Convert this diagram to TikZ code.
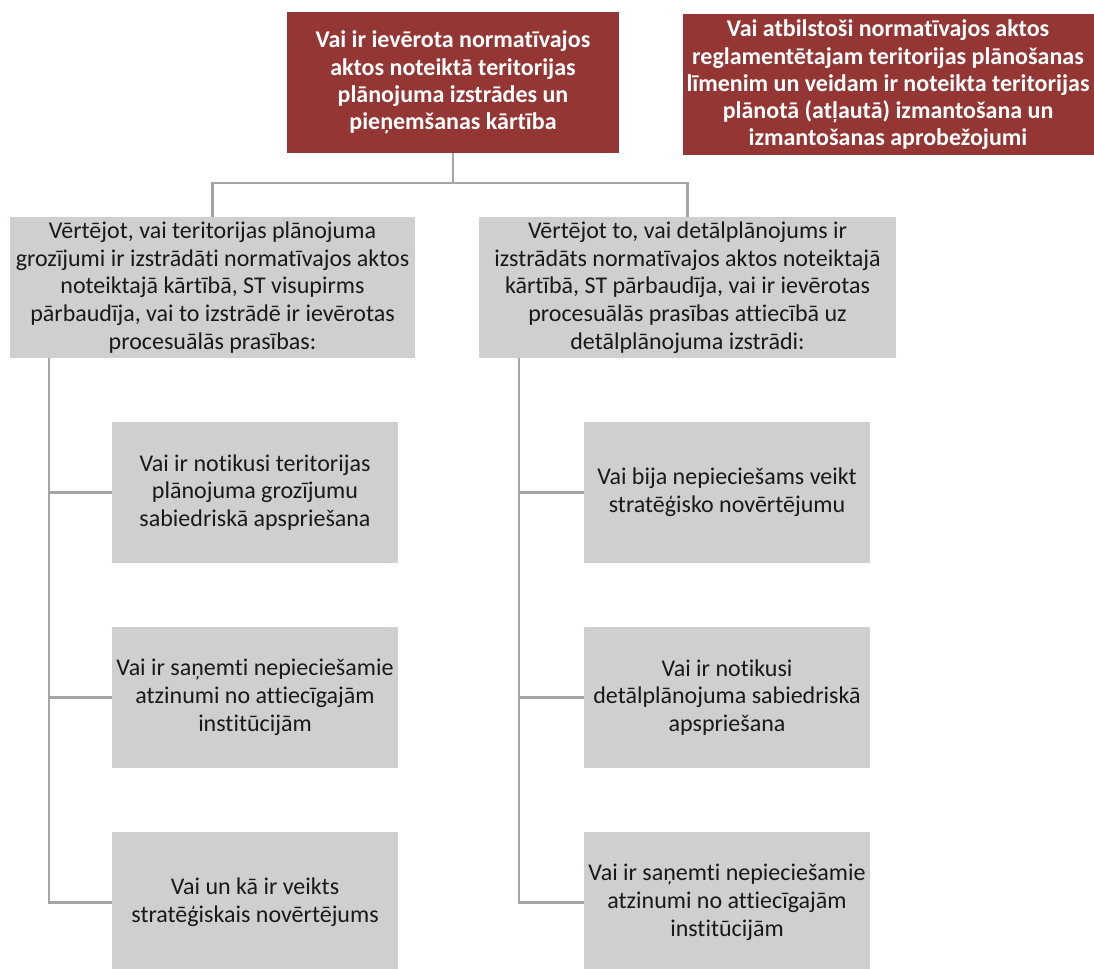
\documentclass[tikz,border=0pt]{standalone}
\usepackage{fontspec}
\setmainfont{Carlito}[Ligatures=NoCommon]
\usetikzlibrary{positioning,calc}
\definecolor{hdred}{HTML}{943634}
\definecolor{boxgray}{HTML}{D0CECE}
\definecolor{linegray}{HTML}{A5A5A5}
\newcommand{\pxu}{0.75pt}
\tikzset{
  redbox/.style={fill=hdred, text=white, font=\fontsize{18}{20.4}\selectfont\bfseries, align=center, inner sep=0pt, minimum height=141*\pxu},
  graybox/.style={fill=boxgray, text=black!90, font=\fontsize{18}{20.8}\selectfont, align=center, inner sep=0pt, minimum height=141*\pxu},
  conn/.style={draw=linegray, line width=2pt}
}

\begin{document}
\begin{tikzpicture}[x=0.75pt, y=-0.75pt]
\useasboundingbox (0,0) rectangle (1094,969);
\node[redbox, minimum width=332*\pxu] (top) at (453,82.5) {Vai ir ievērota normatīvajos\\aktos noteiktā teritorijas\\plānojuma izstrādes un\\pieņemšanas kārtība};
\node[redbox, minimum width=411*\pxu] (use) at (888,85) {Vai atbilstoši normatīvajos aktos\\reglamentētajam teritorijas plānošanas\\līmenim un veidam ir noteikta teritorijas\\plānotā (atļautā) izmantošana un\\izmantošanas aprobežojumi};
\node[graybox, minimum width=405*\pxu] (tp) at (212.5,287.5) {Vērtējot, vai teritorijas plānojuma\\grozījumi ir izstrādāti normatīvajos aktos\\noteiktajā kārtībā, ST visupirms\\pārbaudīja, vai to izstrādē ir ievērotas\\procesuālās prasības:};
\node[graybox, minimum width=417*\pxu] (dp) at (687.5,287.5) {Vērtējot to, vai detālplānojums ir\\izstrādāts normatīvajos aktos noteiktajā\\kārtībā, ST pārbaudīja, vai ir ievērotas\\procesuālās prasības attiecībā uz\\detālplānojuma izstrādi:};
\node[graybox, minimum width=286*\pxu] (tp1) at (255,492.5) {Vai ir notikusi teritorijas\\plānojuma grozījumu\\sabiedriskā apspriešana};
\node[graybox, minimum width=286*\pxu] (tp2) at (255,697.5) {Vai ir saņemti nepieciešamie\\atzinumi no attiecīgajām\\institūcijām};
\node[graybox, minimum width=286*\pxu] (tp3) at (255,902.5) {Vai un kā ir veikts\\stratēģiskais novērtējums};
\node[graybox, minimum width=286*\pxu] (dp1) at (727,492.5) {Vai bija nepieciešams veikt\\stratēģisko novērtējumu};
\node[graybox, minimum width=286*\pxu] (dp2) at (727,697.5) {Vai ir notikusi\\detālplānojuma sabiedriskā\\apspriešana};
\node[graybox, minimum width=286*\pxu] (dp3) at (727,902.5) {Vai ir saņemti nepieciešamie\\atzinumi no attiecīgajām\\institūcijām};
\coordinate (split) at (453,183);
\coordinate (tpspine) at (49,358);
\coordinate (dpspine) at (519,358);
\draw[conn] (top.south) -- (split);
\draw[conn] (tp.north) |- (split) -| (dp.north);
\draw[conn] (tpspine) |- (tp3.west);
\draw[conn] (tp1.west) -- (tp1.west -| tpspine) (tp2.west) -- (tp2.west -| tpspine);
\draw[conn] (dpspine) |- (dp3.west);
\draw[conn] (dp1.west) -- (dp1.west -| dpspine) (dp2.west) -- (dp2.west -| dpspine);
\end{tikzpicture}
\end{document}
